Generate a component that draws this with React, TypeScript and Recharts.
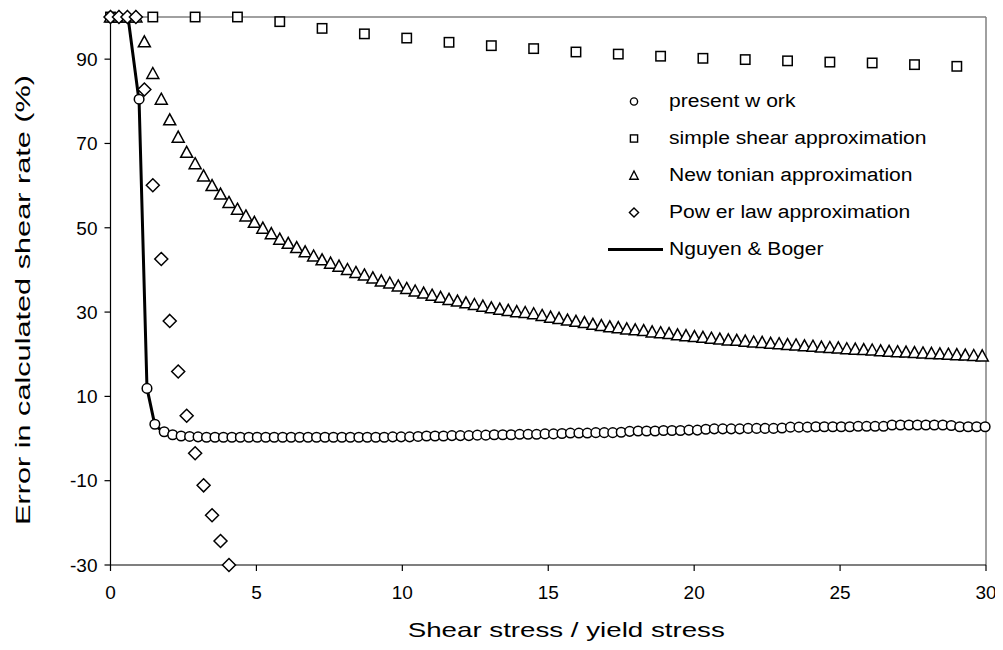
import { ComposedChart, Scatter, Line, XAxis, YAxis, ReferenceLine, Legend, Label } from "recharts";

const FONT = '"Liberation Sans", Arial, sans-serif';

// present work (circles)
const presentX = [
  0.98, 1.25, 1.52, 1.84, 2.13, 2.42, 2.71, 3.0,
  3.29, 3.58, 3.87, 4.16, 4.45, 4.74, 5.03, 5.32, 5.61, 5.9, 6.19, 6.48, 6.77, 7.06, 7.35, 7.64, 7.93, 8.22, 8.51, 8.8, 9.09, 9.38,
  9.67, 9.96, 10.25, 10.54, 10.83, 11.12, 11.41, 11.7, 11.99, 12.28, 12.57, 12.86, 13.15, 13.44, 13.73, 14.02, 14.31, 14.6, 14.89, 15.18,
  15.47, 15.76, 16.05, 16.34, 16.63, 16.92, 17.21, 17.5, 17.79, 18.08, 18.37, 18.66, 18.95, 19.24, 19.53, 19.82, 20.11, 20.4, 20.69, 20.98,
  21.27, 21.56, 21.85, 22.14, 22.43, 22.72, 23.01, 23.3, 23.59, 23.88, 24.17, 24.46, 24.75, 25.04, 25.33, 25.62, 25.91, 26.2, 26.49, 26.78,
  27.07, 27.36, 27.65, 27.94, 28.23, 28.52, 28.81, 29.1, 29.39, 29.68, 29.97,
];
const presentY = [
  80.5, 11.9, 3.4, 1.6, 0.9, 0.6, 0.5, 0.4,
  0.3, 0.3, 0.3, 0.3, 0.3, 0.3, 0.3, 0.3, 0.3, 0.3, 0.3, 0.3, 0.3, 0.3, 0.3, 0.3, 0.3, 0.3, 0.3, 0.3, 0.3, 0.3,
  0.4, 0.4, 0.4, 0.5, 0.6, 0.6, 0.6, 0.7, 0.7, 0.7, 0.8, 0.8, 0.9, 0.9, 0.9, 1.0, 1.0, 1.0, 1.1, 1.1,
  1.2, 1.3, 1.3, 1.3, 1.4, 1.4, 1.4, 1.5, 1.7, 1.8, 1.8, 1.8, 1.9, 1.9, 1.9, 2.0, 2.0, 2.2, 2.3, 2.3,
  2.3, 2.3, 2.4, 2.4, 2.4, 2.4, 2.5, 2.7, 2.7, 2.7, 2.8, 2.8, 2.8, 2.8, 2.8, 2.9, 2.9, 2.9, 2.9, 3.2,
  3.2, 3.2, 3.2, 3.2, 3.2, 3.2, 3.1, 2.8, 2.8, 2.8, 2.8,
];

// simple shear approximation (squares)
const simpleX = [0, 1.45, 2.9, 4.35, 5.8, 7.25, 8.7, 10.15, 11.6, 13.05, 14.5, 15.95, 17.4, 18.85, 20.3, 21.75, 23.2, 24.65, 26.1, 27.55, 29.0];
const simpleY = [100, 100, 100, 100, 98.9, 97.3, 96.0, 95.0, 94.0, 93.2, 92.5, 91.7, 91.2, 90.7, 90.2, 89.9, 89.6, 89.3, 89.1, 88.7, 88.3];

// Newtonian approximation (triangles)
const newtonX = [
  0, 0.29, 0.58, 0.87, 1.16, 1.45, 1.74, 2.03, 2.32, 2.61, 2.9, 3.19, 3.48, 3.77, 4.06, 4.35, 4.64, 4.93, 5.22, 5.51,
  5.8, 6.09, 6.38, 6.67, 6.96, 7.25, 7.54, 7.83, 8.12, 8.41, 8.7, 8.99, 9.28, 9.57, 9.86, 10.15, 10.44, 10.73, 11.02, 11.31,
  11.6, 11.89, 12.18, 12.47, 12.76, 13.05, 13.34, 13.63, 13.92, 14.21, 14.5, 14.79, 15.08, 15.37, 15.66, 15.95, 16.24, 16.53, 16.82, 17.11,
  17.4, 17.69, 17.98, 18.27, 18.56, 18.85, 19.14, 19.43, 19.72, 20.01, 20.3, 20.59, 20.88, 21.17, 21.46, 21.75, 22.04, 22.33, 22.62, 22.91,
  23.2, 23.49, 23.78, 24.07, 24.36, 24.65, 24.94, 25.23, 25.52, 25.81, 26.1, 26.39, 26.68, 26.97, 27.26, 27.55, 27.84, 28.13, 28.42, 28.71,
  29.0, 29.29, 29.58, 29.87,
];
const newtonY = [
  100, 100, 100, 100, 94.1, 86.6, 80.5, 75.6, 71.5, 67.9, 65.2, 62.3, 60.0, 58.0, 56.0, 54.4, 52.8, 51.3, 49.9, 48.6,
  47.3, 46.3, 45.3, 44.3, 43.3, 42.4, 41.6, 40.9, 40.1, 39.4, 38.8, 38.1, 37.4, 36.9, 36.2, 35.6, 35.0, 34.5, 34.0, 33.5,
  33.0, 32.6, 32.2, 31.8, 31.4, 31.0, 30.7, 30.4, 30.1, 29.9, 29.6, 29.2, 28.8, 28.5, 28.1, 27.8, 27.5, 27.1, 26.8, 26.5,
  26.3, 26.0, 25.8, 25.6, 25.3, 25.1, 24.9, 24.6, 24.4, 24.2, 24.0, 23.8, 23.6, 23.4, 23.3, 23.1, 22.9, 22.8, 22.6, 22.5,
  22.3, 22.2, 22.0, 21.9, 21.7, 21.6, 21.5, 21.3, 21.2, 21.1, 21.0, 20.8, 20.7, 20.6, 20.5, 20.4, 20.3, 20.2, 20.1, 20.0,
  19.9, 19.8, 19.7, 19.6,
];

// Power law approximation (diamonds)
const powerX = [0, 0.29, 0.58, 0.87, 1.16, 1.45, 1.74, 2.03, 2.32, 2.61, 2.9, 3.19, 3.48, 3.77, 4.06];
const powerY = [100, 100, 100, 100, 82.8, 60.1, 42.6, 27.9, 15.9, 5.4, -3.5, -11.1, -18.2, -24.3, -30];

// Nguyen & Boger (line)
const nbX = [0, 0.6, 0.98, 1.25, 1.52, 1.84, 2.13, 2.71, 4, 6, 8, 10, 12, 14, 16, 18, 20, 22, 24, 26, 28, 30];
const nbY = [100, 100, 80, 12, 3.2, 1.4, 0.8, 0.4, 0.3, 0.3, 0.3, 0.4, 0.7, 1.0, 1.3, 1.8, 2.1, 2.4, 2.7, 2.9, 3.2, 2.8];

const xTicks = [0, 5, 10, 15, 20, 25, 30];
const yTicks = [-30, -10, 10, 30, 50, 70, 90];

const zip = (xs: number[], ys: number[]) => xs.map((x, i) => ({ x, y: ys[i] }));

const present = zip(presentX, presentY);
const simple = zip(simpleX, simpleY);
const newton = zip(newtonX, newtonY);
const power = zip(powerX, powerY);
const nb = zip(nbX, nbY);

const Circ = ({ cx, cy }: any) => <circle cx={cx} cy={cy} r={4.8} fill="#fff" stroke="#000" strokeWidth={1.5} />;
const Sq = ({ cx, cy }: any) => <rect x={cx - 4.7} y={cy - 4.7} width={9.4} height={9.4} fill="#fff" stroke="#000" strokeWidth={1.5} />;
const Tri = ({ cx, cy }: any) => (
  <polygon points={`${cx},${cy - 6} ${cx + 6},${cy + 5} ${cx - 6},${cy + 5}`} fill="#fff" stroke="#000" strokeWidth={1.5} />
);
const Dia = ({ cx, cy }: any) => (
  <polygon points={`${cx},${cy - 6.5} ${cx + 6.5},${cy} ${cx},${cy + 6.5} ${cx - 6.5},${cy}`} fill="#fff" stroke="#000" strokeWidth={1.5} />
);

const legendItems = [
  { name: "present w ork", icon: "circle" },
  { name: "simple shear approximation", icon: "square" },
  { name: "New tonian approximation", icon: "triangle" },
  { name: "Pow er law approximation", icon: "diamond" },
  { name: "Nguyen & Boger", icon: "line" },
];

function LegendIcon({ icon }: { icon: string }) {
  const c = 26;
  const m = 18.5;
  return (
    <svg width={55} height={37} style={{ display: "block" }}>
      {icon === "circle" && <circle cx={c} cy={m} r={3.6} fill="#fff" stroke="#000" strokeWidth={1.4} />}
      {icon === "square" && <rect x={c - 3.6} y={m - 3.6} width={7.2} height={7.2} fill="#fff" stroke="#000" strokeWidth={1.4} />}
      {icon === "triangle" && (
        <polygon points={`${c},${m - 4.5} ${c + 4.2},${m + 3.8} ${c - 4.2},${m + 3.8}`} fill="#fff" stroke="#000" strokeWidth={1.4} />
      )}
      {icon === "diamond" && (
        <polygon points={`${c},${m - 4.6} ${c + 4.6},${m} ${c},${m + 4.6} ${c - 4.6},${m}`} fill="#fff" stroke="#000" strokeWidth={1.4} />
      )}
      {icon === "line" && <line x1={0} y1={m} x2={55} y2={m} stroke="#000" strokeWidth={3} />}
    </svg>
  );
}

function LegendBox() {
  return (
    <div style={{ fontFamily: FONT, fontSize: 18, color: "#000" }}>
      {legendItems.map((it) => (
        <div key={it.name} style={{ display: "flex", alignItems: "center", height: 37 }}>
          <LegendIcon icon={it.icon} />
          <span
            style={{
              marginLeft: 6,
              whiteSpace: "nowrap",
              display: "inline-block",
              transform: "scaleX(1.17)",
              transformOrigin: "left center",
            }}
          >
            {it.name}
          </span>
        </div>
      ))}
    </div>
  );
}

const XTitle = ({ viewBox }: any) => (
  <text
    x={viewBox.x + viewBox.width / 2 + 18}
    y={viewBox.y + 72}
    textAnchor="middle"
    fontFamily={FONT}
    fontSize={21}
    textLength={317}
    lengthAdjust="spacingAndGlyphs"
  >
    Shear stress / yield stress
  </text>
);

const YTitle = ({ viewBox }: any) => {
  const x = viewBox.x - 1;
  const y = viewBox.y + viewBox.height / 2 + 9;
  return (
    <text
      x={x}
      y={y}
      transform={`rotate(-90, ${x}, ${y})`}
      textAnchor="middle"
      fontFamily={FONT}
      fontSize={21}
      textLength={450}
      lengthAdjust="spacingAndGlyphs"
    >
      Error in calculated shear rate (%)
    </text>
  );
};

export default function App() {
  const tick = { fontFamily: FONT, fontSize: 19, fill: "#000" };
  return (
    <div style={{ width: 995, height: 642, background: "#fff" }}>
      <ComposedChart width={995} height={642} margin={{ top: 9, right: 17, bottom: 35, left: 22.5 }}>
        <XAxis
          type="number"
          dataKey="x"
          domain={[0, 30]}
          ticks={xTicks}
          height={50}
          tick={tick}
          tickSize={6}
          tickMargin={15}
          axisLine={{ stroke: "#000", strokeWidth: 1.2 }}
          tickLine={{ stroke: "#000", strokeWidth: 1.2 }}
        >
          <Label content={<XTitle />} />
        </XAxis>
        <YAxis
          type="number"
          dataKey="y"
          domain={[-30, 100]}
          ticks={yTicks}
          width={80}
          tick={tick}
          tickSize={6}
          tickMargin={7}
          axisLine={{ stroke: "#000", strokeWidth: 1.2 }}
          tickLine={{ stroke: "#000", strokeWidth: 1.2 }}
        >
          <Label content={<YTitle />} />
        </YAxis>
        <ReferenceLine y={100} stroke="#808080" strokeWidth={1.5} />
        <ReferenceLine x={30} stroke="#808080" strokeWidth={1.5} />
        <Legend
          verticalAlign="middle"
          align="center"
          layout="vertical"
          content={() => <LegendBox />}
          wrapperStyle={{ top: 74.5, left: 600, width: 360 }}
        />
        <Line data={nb} dataKey="y" type="linear" stroke="#000" strokeWidth={3} dot={false} isAnimationActive={false} legendType="none" />
        <Scatter data={present} dataKey="y" shape={<Circ />} isAnimationActive={false} />
        <Scatter data={simple} dataKey="y" shape={<Sq />} isAnimationActive={false} />
        <Scatter data={newton} dataKey="y" shape={<Tri />} isAnimationActive={false} />
        <Scatter data={power} dataKey="y" shape={<Dia />} isAnimationActive={false} />
      </ComposedChart>
    </div>
  );
}
